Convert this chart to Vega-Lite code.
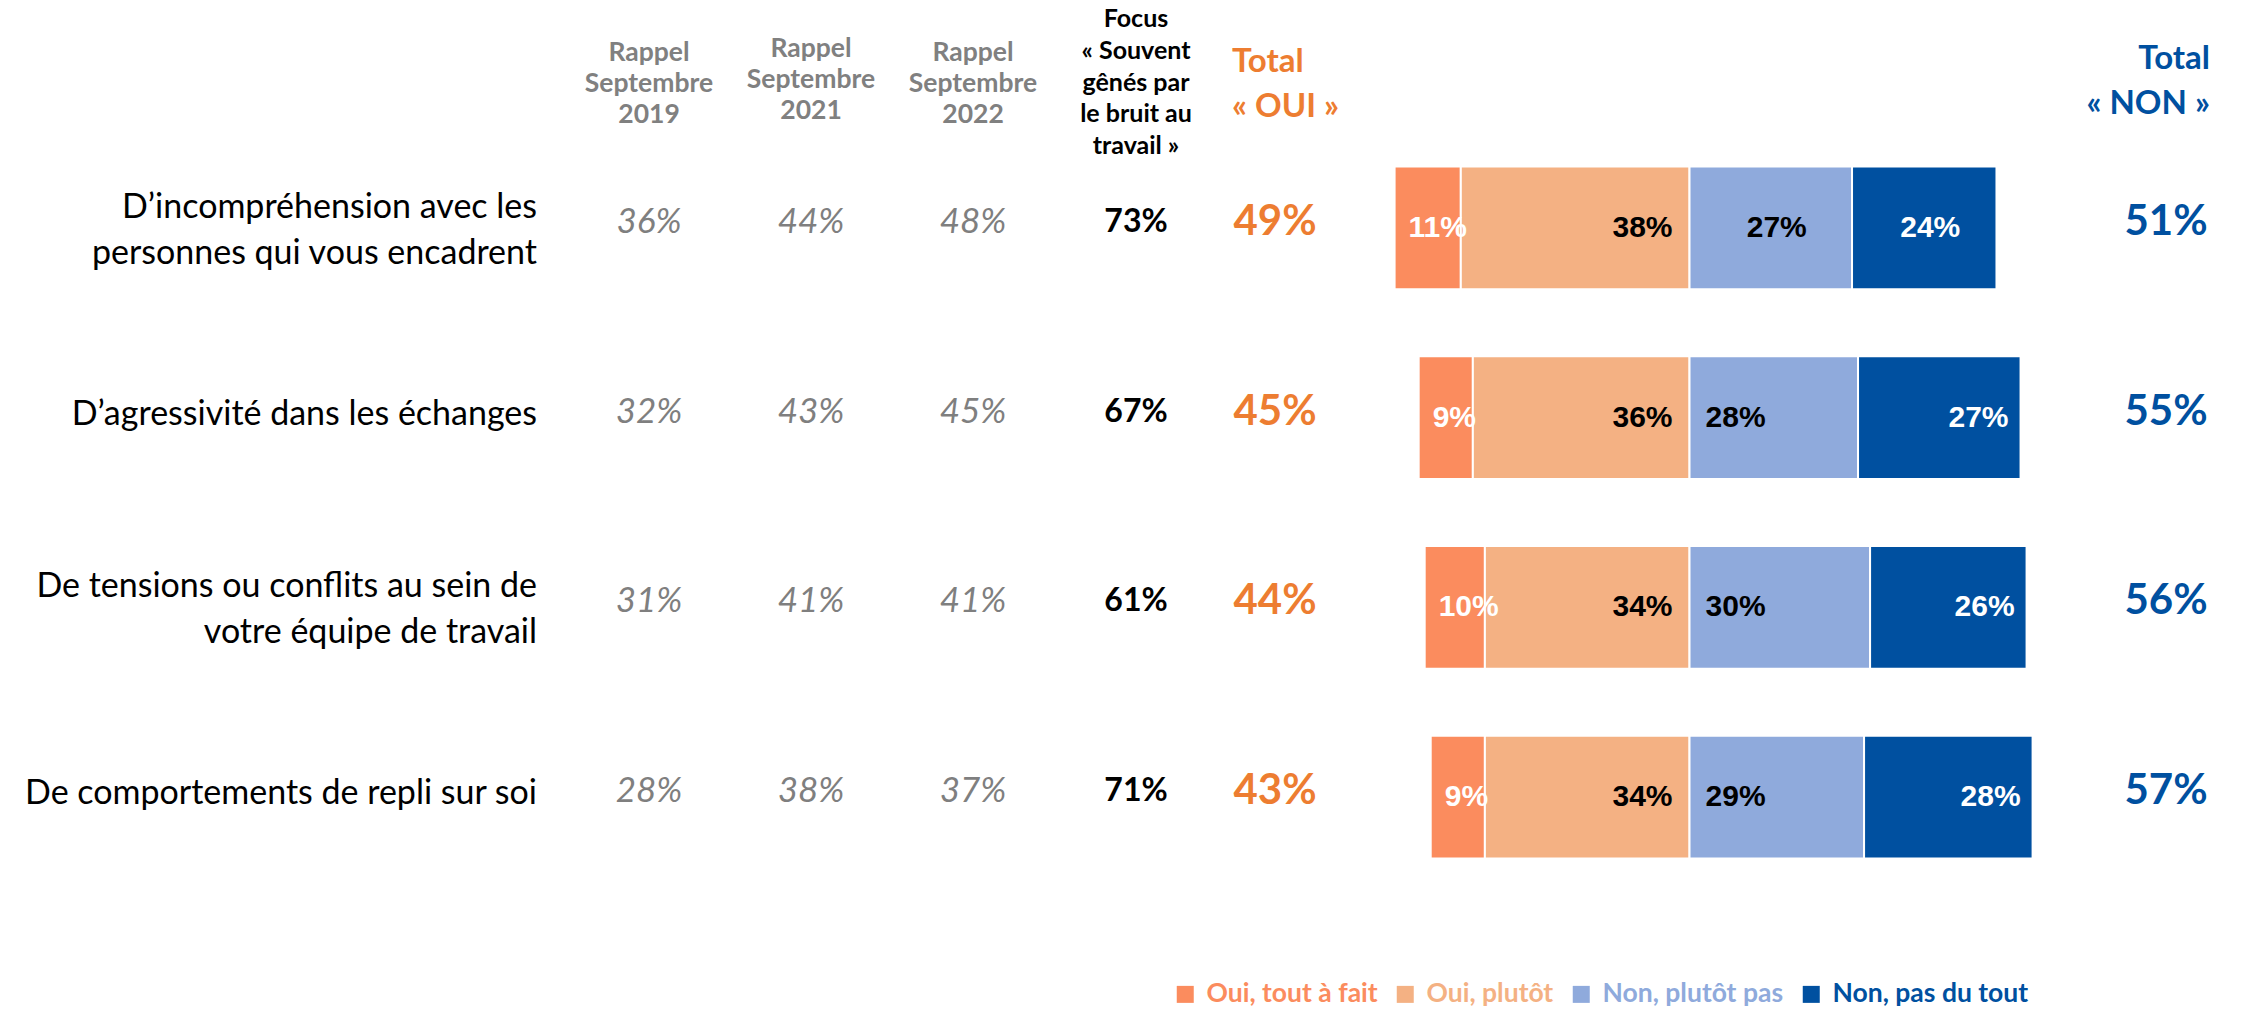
{
  "$schema": "https://vega.github.io/schema/vega-lite/v6.json",
  "background": "white",
  "padding": {"left": 0, "right": 0, "top": 7, "bottom": 0},
  "spacing": 0,
  "bounds": "flush",
  "config": {
    "view": {"stroke": null},
    "font": "Lato",
    "title": {"anchor": "middle", "baseline": "bottom", "fontWeight": "bold", "fontSize": 26.5, "lineHeight": 31, "color": "#808080", "font": "Lato"}
  },
  "datasets": {
    "rows": [
      {"item": "D’incompréhension avec les\npersonnes qui vous encadrent", "r2019": 36, "r2021": 44, "r2022": 48, "focus": 73, "oui": 49, "non": 51},
      {"item": "D’agressivité dans les échanges", "r2019": 32, "r2021": 43, "r2022": 45, "focus": 67, "oui": 45, "non": 55},
      {"item": "De tensions ou conflits au sein de\nvotre équipe de travail", "r2019": 31, "r2021": 41, "r2022": 41, "focus": 61, "oui": 44, "non": 56},
      {"item": "De comportements de repli sur soi", "r2019": 28, "r2021": 38, "r2022": 37, "focus": 71, "oui": 43, "non": 57}
    ],
    "bars": [
      {"item": "D’incompréhension avec les\npersonnes qui vous encadrent", "cat": "Oui, tout à fait", "v": 11},
      {"item": "D’incompréhension avec les\npersonnes qui vous encadrent", "cat": "Oui, plutôt", "v": 38},
      {"item": "D’incompréhension avec les\npersonnes qui vous encadrent", "cat": "Non, plutôt pas", "v": 27},
      {"item": "D’incompréhension avec les\npersonnes qui vous encadrent", "cat": "Non, pas du tout", "v": 24},
      {"item": "D’agressivité dans les échanges", "cat": "Oui, tout à fait", "v": 9},
      {"item": "D’agressivité dans les échanges", "cat": "Oui, plutôt", "v": 36},
      {"item": "D’agressivité dans les échanges", "cat": "Non, plutôt pas", "v": 28},
      {"item": "D’agressivité dans les échanges", "cat": "Non, pas du tout", "v": 27},
      {"item": "De tensions ou conflits au sein de\nvotre équipe de travail", "cat": "Oui, tout à fait", "v": 10},
      {"item": "De tensions ou conflits au sein de\nvotre équipe de travail", "cat": "Oui, plutôt", "v": 34},
      {"item": "De tensions ou conflits au sein de\nvotre équipe de travail", "cat": "Non, plutôt pas", "v": 30},
      {"item": "De tensions ou conflits au sein de\nvotre équipe de travail", "cat": "Non, pas du tout", "v": 26},
      {"item": "De comportements de repli sur soi", "cat": "Oui, tout à fait", "v": 9},
      {"item": "De comportements de repli sur soi", "cat": "Oui, plutôt", "v": 34},
      {"item": "De comportements de repli sur soi", "cat": "Non, plutôt pas", "v": 29},
      {"item": "De comportements de repli sur soi", "cat": "Non, pas du tout", "v": 28}
    ]
  },
  "hconcat": [
    {
      "width": 568, "height": 759,
      "data": {"name": "rows"},
      "transform": [{"calculate": "test(/incompr|tensions/, datum.item) ? 1 : 0", "as": "two"}],
      "encoding": {
        "y": {"field": "item", "type": "nominal", "sort": null, "axis": null, "scale": {"paddingInner": 0, "paddingOuter": 0, "domain": ["D’incompréhension avec les\npersonnes qui vous encadrent", "D’agressivité dans les échanges", "De tensions ou conflits au sein de\nvotre équipe de travail", "De comportements de repli sur soi"]}},
        "text": {"field": "item"}
      },
      "layer": [
        {
          "transform": [{"filter": "datum.two == 1"}],
          "mark": {"type": "text", "align": "right", "baseline": "middle", "x": "width", "dx": -31, "dy": -20, "fontSize": 34, "lineBreak": "\n", "lineHeight": 46, "color": "#000000"}
        },
        {
          "transform": [{"filter": "datum.two == 0"}],
          "mark": {"type": "text", "align": "right", "baseline": "middle", "x": "width", "dx": -31, "dy": -3, "fontSize": 34, "color": "#000000"}
        }
      ]
    },
    {
      "width": 162, "height": 759,
      "data": {"name": "rows"},
      "title": {"text": ["Rappel", "Septembre", "2019"], "offset": 5},
      "transform": [{"calculate": "datum.r2019 + '%'", "as": "t"}],
      "mark": {"type": "text", "fontSize": 35, "fontStyle": "italic", "fontWeight": "normal", "color": "#7F7F7F", "dy": -6},
      "encoding": {
        "y": {"field": "item", "type": "nominal", "sort": null, "axis": null, "scale": {"paddingInner": 0, "paddingOuter": 0}},
        "text": {"field": "t"}
      }
    },
    {
      "width": 162, "height": 759,
      "data": {"name": "rows"},
      "title": {"text": ["Rappel", "Septembre", "2021"], "offset": 9},
      "transform": [{"calculate": "datum.r2021 + '%'", "as": "t"}],
      "mark": {"type": "text", "fontSize": 35, "fontStyle": "italic", "fontWeight": "normal", "color": "#7F7F7F", "dy": -6},
      "encoding": {
        "y": {"field": "item", "type": "nominal", "sort": null, "axis": null, "scale": {"paddingInner": 0, "paddingOuter": 0}},
        "text": {"field": "t"}
      }
    },
    {
      "width": 162, "height": 759,
      "data": {"name": "rows"},
      "title": {"text": ["Rappel", "Septembre", "2022"], "offset": 5},
      "transform": [{"calculate": "datum.r2022 + '%'", "as": "t"}],
      "mark": {"type": "text", "fontSize": 35, "fontStyle": "italic", "fontWeight": "normal", "color": "#7F7F7F", "dy": -6},
      "encoding": {
        "y": {"field": "item", "type": "nominal", "sort": null, "axis": null, "scale": {"paddingInner": 0, "paddingOuter": 0}},
        "text": {"field": "t"}
      }
    },
    {
      "width": 164, "height": 759,
      "data": {"name": "rows"},
      "title": {"text": ["Focus", "« Souvent", "gênés par", "le bruit au", "travail »"], "offset": -26, "color": "#000000", "fontSize": 25, "lineHeight": 31.7},
      "transform": [{"calculate": "datum.focus + '%'", "as": "t"}],
      "mark": {"type": "text", "fontSize": 32, "fontWeight": "bold", "color": "#000000", "dy": -6},
      "encoding": {
        "y": {"field": "item", "type": "nominal", "sort": null, "axis": null, "scale": {"paddingInner": 0, "paddingOuter": 0}},
        "text": {"field": "t"}
      }
    },
    {
      "width": 114, "height": 759,
      "data": {"name": "rows"},
      "title": {"text": ["Total", "« OUI  »"], "anchor": "start", "align": "left", "dx": 14, "offset": 9, "color": "#ED7D31", "fontSize": 33, "lineHeight": 45},
      "transform": [{"calculate": "datum.oui + '%'", "as": "t"}],
      "mark": {"type": "text", "fontSize": 42, "fontWeight": "bold", "color": "#ED7D31", "dy": -6},
      "encoding": {
        "y": {"field": "item", "type": "nominal", "sort": null, "axis": null, "scale": {"paddingInner": 0, "paddingOuter": 0}},
        "text": {"field": "t"}
      }
    },
    {
      "width": 768, "height": 759,
      "data": {"name": "bars"},
      "transform": [
        {"calculate": "(datum.cat == 'Oui, tout à fait' || datum.cat == 'Oui, plutôt') ? -datum.v : datum.v", "as": "sv"},
        {"calculate": "(datum.cat == 'Oui, plutôt' || datum.cat == 'Non, plutôt pas') ? 1 : 2", "as": "rank"},
        {"calculate": "test(/incompr/, datum.item) ? 1 : 0", "as": "first"},
        {"stack": "sv", "groupby": ["item"], "sort": [{"field": "rank", "order": "ascending"}], "as": ["x0", "x1"]},
        {"calculate": "(datum.x0 + datum.x1) / 2", "as": "xm"},
        {"calculate": "datum.v + '%'", "as": "t"}
      ],
      "encoding": {
        "y": {"field": "item", "type": "nominal", "sort": null, "axis": null, "scale": {"paddingInner": 0, "paddingOuter": 0, "domain": ["D’incompréhension avec les\npersonnes qui vous encadrent", "D’agressivité dans les échanges", "De tensions ou conflits au sein de\nvotre équipe de travail", "De comportements de repli sur soi"]}}
      },
      "layer": [
        {
          "mark": {"type": "bar", "height": {"band": 0.648}, "stroke": "white", "strokeWidth": 2},
          "encoding": {
            "x": {"field": "x0", "type": "quantitative", "scale": {"domain": [-59.4, 68.2], "nice": false, "zero": false}, "axis": null},
            "x2": {"field": "x1"},
            "color": {
              "field": "cat", "type": "nominal",
              "scale": {"domain": ["Oui, tout à fait", "Oui, plutôt", "Non, plutôt pas", "Non, pas du tout"], "range": ["#FB8C5E", "#F4B183", "#8FAADC", "#0050A0"]},
              "legend": {
                "orient": "none", "direction": "horizontal", "legendX": 1172, "legendY": 848,
                "title": null, "symbolType": "square", "symbolSize": 289, "symbolStrokeWidth": 0,
                "labelFont": "Lato", "labelFontSize": 26.5, "labelFontWeight": "bold", "labelOffset": 8, "columnPadding": 14, "labelLimit": 400,
                "labelColor": {"expr": "datum.value == 'Oui, tout à fait' ? '#FB8C5E' : datum.value == 'Oui, plutôt' ? '#F4B183' : datum.value == 'Non, plutôt pas' ? '#8FAADC' : '#0050A0'"}
              }
            }
          }
        },
        {
          "transform": [{"filter": "datum.cat == 'Oui, tout à fait'"}],
          "mark": {"type": "text", "align": "left", "baseline": "middle", "dx": 14, "font": "Liberation Sans", "fontWeight": "bold", "fontSize": 30, "color": "#FFFFFF"},
          "encoding": {
            "x": {"field": "x1", "type": "quantitative"},
            "text": {"field": "t"}
          }
        },
        {
          "transform": [{"filter": "datum.first == 1 && (datum.cat == 'Non, plutôt pas' || datum.cat == 'Non, pas du tout')"}],
          "mark": {"type": "text", "align": "center", "baseline": "middle", "dx": 6, "font": "Liberation Sans", "fontWeight": "bold", "fontSize": 30},
          "encoding": {
            "x": {"field": "xm", "type": "quantitative"},
            "text": {"field": "t"},
            "color": {"condition": {"test": "datum.cat == 'Non, plutôt pas'", "value": "#000000"}, "value": "#FFFFFF"}
          }
        },
        {
          "transform": [{"filter": "datum.cat == 'Oui, plutôt'"}],
          "mark": {"type": "text", "align": "right", "baseline": "middle", "dx": -17, "font": "Liberation Sans", "fontWeight": "bold", "fontSize": 30, "color": "#000000"},
          "encoding": {
            "x": {"field": "x0", "type": "quantitative"},
            "text": {"field": "t"}
          }
        },
        {
          "transform": [{"filter": "datum.cat == 'Non, plutôt pas' && datum.first == 0"}],
          "mark": {"type": "text", "align": "left", "baseline": "middle", "dx": 16, "font": "Liberation Sans", "fontWeight": "bold", "fontSize": 30, "color": "#000000"},
          "encoding": {
            "x": {"field": "x0", "type": "quantitative"},
            "text": {"field": "t"}
          }
        },
        {
          "transform": [{"filter": "datum.cat == 'Non, pas du tout' && datum.first == 0"}],
          "mark": {"type": "text", "align": "right", "baseline": "middle", "dx": -12, "font": "Liberation Sans", "fontWeight": "bold", "fontSize": 30, "color": "#FFFFFF"},
          "encoding": {
            "x": {"field": "x1", "type": "quantitative"},
            "text": {"field": "t"}
          }
        }
      ]
    },
    {
      "width": 132, "height": 759,
      "data": {"name": "rows"},
      "title": {"text": ["Total", "« NON »"], "anchor": "end", "align": "right", "dx": -22, "offset": 12, "color": "#0050A0", "fontSize": 33, "lineHeight": 45},
      "transform": [{"calculate": "datum.non + '%'", "as": "t"}],
      "mark": {"type": "text", "fontSize": 42, "fontWeight": "bold", "color": "#0050A0", "dy": -6},
      "encoding": {
        "y": {"field": "item", "type": "nominal", "sort": null, "axis": null, "scale": {"paddingInner": 0, "paddingOuter": 0}},
        "text": {"field": "t"}
      }
    }
  ]
}
